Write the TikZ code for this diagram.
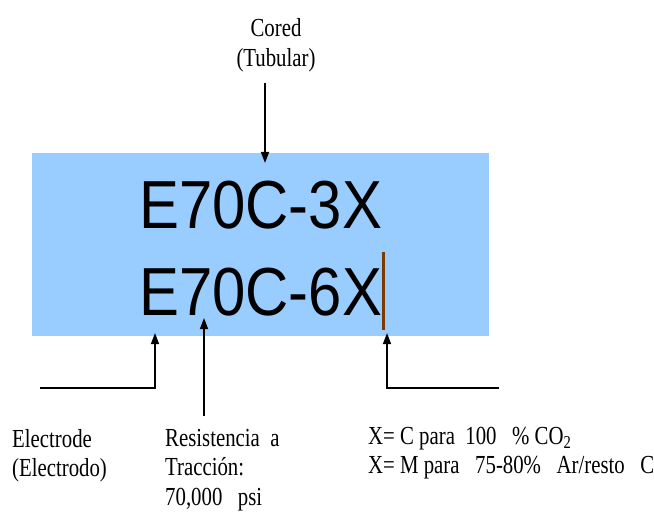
\documentclass[tikz,border=0pt]{standalone}
\usepackage{fontspec}
\setmainfont{Liberation Serif}
\newfontfamily\bigsans[FakeStretch=0.88]{Liberation Sans}
\newfontfamily\condserif[FakeStretch=0.8]{Liberation Serif}
\usetikzlibrary{arrows.meta}
\definecolor{boxblue}{HTML}{99CCFF}
\definecolor{cursorbrown}{HTML}{7A3A00}
\tikzset{
  bigcode/.style={anchor=base west, inner sep=0pt, font={\bigsans\fontsize{68}{70}\selectfont}},
  lbl/.style={anchor=north west, inner sep=0pt, align=left, font={\condserif\fontsize{26}{29.5}\selectfont}},
  pointer/.style={line width=1.4pt, -{Triangle[length=11pt,width=8pt]}},
}
\begin{document}
\begin{tikzpicture}[x=1pt,y=-1pt]
\useasboundingbox (0,0) rectangle (654,516);
\node[fill=boxblue, minimum width=457pt, minimum height=183pt, inner sep=0pt] (box) at (260.5,244.5) {};
\node[bigcode] (code1) at (139,229) {E70C-3X};
\node[bigcode] (code2) at (139,315) {E70C-6X};
\coordinate (curtop) at (383.5,252);
\coordinate (curbot) at (383.5,330);
\draw[cursorbrown, line width=2.6pt] (curtop) -- (curbot);
\node[anchor=north, align=center, inner sep=0pt, font={\condserif\fontsize{26}{30}\selectfont}] (cored) at (276,18) {Cored\\(Tubular)};
\coordinate (coredtop) at (265,83);
\coordinate (coredtip) at (265,163);
\draw[pointer] (coredtop) -- (coredtip);
\coordinate (eleftend) at (40,388);
\coordinate (ecorner) at (155,388);
\coordinate (etip) at (155,333);
\draw[pointer] (eleftend) -- (ecorner) -- (etip);
\coordinate (rbase) at (204,416);
\coordinate (rtip) at (204,318);
\draw[pointer] (rbase) -- (rtip);
\coordinate (xrightend) at (499,388);
\coordinate (xcorner) at (387,388);
\coordinate (xtip) at (387,333);
\draw[pointer] (xrightend) -- (xcorner) -- (xtip);
\node[lbl] (elec) at (12,429) {Electrode\\(Electrodo)};
\node[lbl] (resist) at (165,429) {Resistencia~~a\\Tracción:\\70,000~~~psi};
\node[lbl] (xlab) at (368,427) {X= C para~~100~~~\%~CO\textsubscript{2}\\X= M para~~~75-80\%~~~Ar/resto~~~C};
\end{tikzpicture}
\end{document}
